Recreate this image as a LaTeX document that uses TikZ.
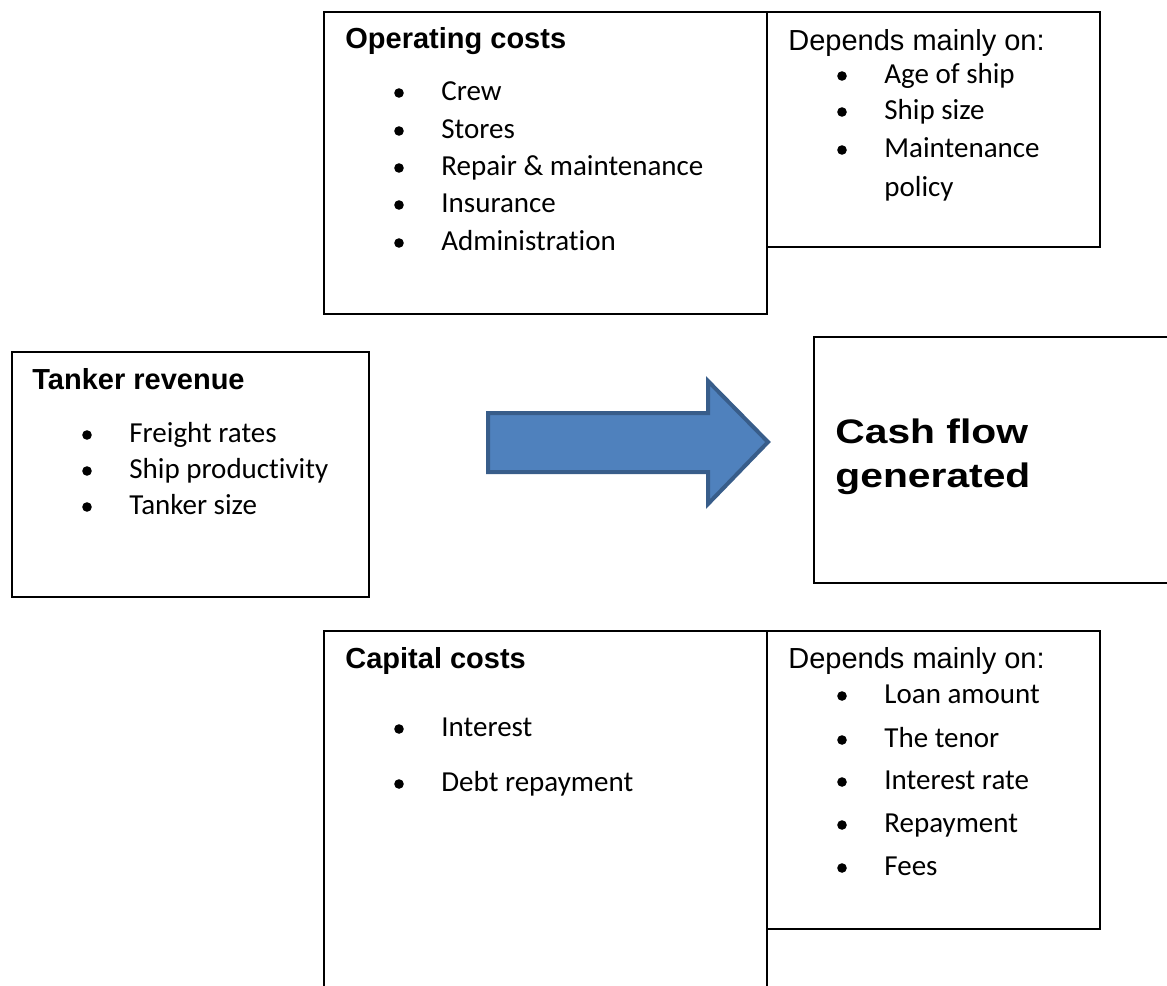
\documentclass[tikz,border=0pt]{standalone}
\usepackage{fontspec}
\usepackage{graphicx}
\setmainfont{Carlito}[Ligatures=NoCommon]
\newfontfamily\arialf{Liberation Sans}
\usetikzlibrary{fit}
\definecolor{arrowfill}{HTML}{4F81BD}
\definecolor{arrowline}{HTML}{385D8A}
\tikzset{
  box/.style={draw=black, line width=1pt, inner sep=0pt, rectangle},
  ttl/.style={anchor=base west, inner sep=0pt, font=\arialf\bfseries\fontsize{14.5}{17}\selectfont},
  dep/.style={anchor=base west, inner sep=0pt, font=\arialf\fontsize{14.5}{17}\selectfont},
  itm/.style={anchor=base west, inner sep=0pt, font=\fontsize{14.5}{17}\selectfont},
  bul/.style={circle, fill=black, inner sep=0pt, minimum size=4.8pt},
  bigttl/.style={anchor=base west, inner sep=0pt, font=\arialf\bfseries\fontsize{17}{20}\selectfont},
  bigarrow/.style={fill=arrowfill, draw=arrowline, line width=2pt, line join=miter}
}
\begin{document}
\begin{tikzpicture}[x=0.5pt,y=-0.5pt]
\useasboundingbox (0,0) rectangle (1167,985);
\fill[white] (0,0) rectangle (1167,985);
% boxes
\node[box, fit={(324,12)(767,314)}] (op) {};
\node[box, fit={(767,12)(1100,247)}] (opd) {};
\node[box, fit={(12,352)(369,597)}] (rev) {};
\node[box, fit={(814,337)(1175,583)}] (cash) {};
\node[box, fit={(324,631)(767,1000)}] (cap) {};
\node[box, fit={(767,631)(1100,929)}] (capd) {};
% operating costs
\node[ttl] (opt) at (345,48) {Operating costs};
\foreach \t/\y [count=\i] in {Crew/100, Stores/138, Repair \& maintenance/175, Insurance/212, Administration/250} {
  \node[itm] (op\i) at (441,\y) {\t};
  \node[bul] (opb\i) at (399,\y-7) {};
}
% depends (operating)
\node[dep] (opdt) at (788,50) {Depends mainly on:};
\foreach \t/\y [count=\i] in {Age of ship/83, Ship size/119, Maintenance/157} {
  \node[itm] (opd\i) at (884,\y) {\t};
  \node[bul] (opdb\i) at (842,\y-7) {};
}
\node[itm] (opd4) at (884,196) {policy};
% tanker revenue
\node[ttl] (revt) at (32,389) {Tanker revenue};
\foreach \t/\y [count=\i] in {Freight rates/442, Ship productivity/478, Tanker size/514} {
  \node[itm] (rev\i) at (129,\y) {\t};
  \node[bul] (revb\i) at (87,\y-7) {};
}
% arrow
\draw[bigarrow] (488,413) -- (708,413) -- (708,381) -- (768,442) -- (708,504) -- (708,472) -- (488,472) -- cycle;
% cash flow
\node[bigttl] (cash1) at (835,443) {\scalebox{1.2}[1]{Cash flow}};
\node[bigttl] (cash2) at (835,487) {\scalebox{1.2}[1]{generated}};
% capital costs
\node[ttl] (capt) at (345,668) {Capital costs};
\foreach \t/\y [count=\i] in {Interest/736, Debt repayment/791} {
  \node[itm] (cap\i) at (441,\y) {\t};
  \node[bul] (capb\i) at (399,\y-7) {};
}
% depends (capital)
\node[dep] (capdt) at (788,668) {Depends mainly on:};
\foreach \t/\y [count=\i] in {Loan amount/703, The tenor/747, Interest rate/789, Repayment/832, Fees/875} {
  \node[itm] (capd\i) at (884,\y) {\t};
  \node[bul] (capdb\i) at (842,\y-7) {};
}
\end{tikzpicture}
\end{document}
